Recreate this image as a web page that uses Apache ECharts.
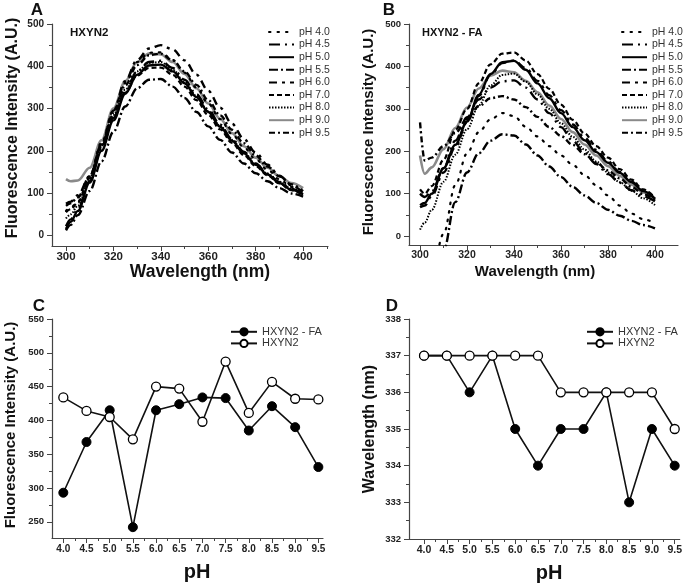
<!DOCTYPE html>
<html>
<head>
<meta charset="utf-8">
<script src="https://cdn.jsdelivr.net/npm/echarts@6/dist/echarts.min.js"></script>
<style>
  html, body { margin: 0; padding: 0; background: #fff; }
  #main { width: 685px; height: 586px; }
</style>
</head>
<body>
<div id="main"></div>
<script>
// emission wavelengths (nm) shared by panels A and B
const wavelengths = [300, 302, 305, 310, 315, 320, 325, 330, 335, 340, 345, 350, 355, 360, 365, 370, 375, 380, 385, 390, 395, 400];
const phNames = ['pH 4.0', 'pH 4.5', 'pH 5.0', 'pH 5.5', 'pH 6.0', 'pH 7.0', 'pH 8.0', 'pH 9.0', 'pH 9.5'];

// panel A - HXYN2 spectra
const a40 = [58, 66, 80, 140, 220, 295, 360, 410, 432, 433, 415, 385, 350, 312, 275, 240, 208, 180, 155, 133, 115, 101];
const a45 = [22, 38, 62, 128, 205, 278, 340, 388, 410, 413, 396, 368, 334, 298, 262, 228, 198, 170, 146, 126, 110, 98];
const a50 = [15, 32, 58, 125, 200, 272, 335, 380, 402, 404, 388, 360, 327, 292, 257, 224, 194, 167, 144, 124, 108, 97];
const a55 = [12, 25, 48, 105, 175, 245, 305, 348, 368, 370, 352, 325, 292, 258, 226, 196, 170, 147, 128, 112, 99, 92];
const a60 = [75, 80, 95, 140, 215, 295, 365, 415, 442, 450, 440, 414, 380, 342, 302, 264, 228, 196, 167, 141, 119, 100];
const a70 = [55, 62, 78, 135, 210, 280, 338, 378, 396, 397, 380, 352, 320, 285, 251, 219, 190, 164, 142, 123, 107, 96];
const a80 = [40, 50, 70, 135, 212, 285, 345, 388, 408, 410, 392, 363, 330, 294, 259, 226, 196, 169, 146, 127, 111, 100];
const a90 = [133, 128, 130, 160, 225, 300, 365, 410, 430, 428, 410, 382, 348, 312, 276, 242, 211, 184, 160, 140, 124, 112];
const a95 = [70, 76, 90, 140, 215, 290, 355, 403, 426, 430, 414, 388, 356, 320, 284, 250, 218, 189, 163, 140, 121, 105];

// panel B - HXYN2 - FA spectra
const b40 = [-150, -125, -85, 5, 120, 195, 245, 275, 290, 283, 258, 235, 212, 190, 168, 144, 120, 96, 72, 53, 40, 30];
const b45 = [100, 92, 105, 160, 225, 280, 322, 350, 365, 367, 350, 322, 290, 257, 225, 196, 170, 146, 126, 108, 94, 82];
const b50 = [73, 78, 100, 160, 215, 270, 333, 382, 410, 413, 392, 360, 325, 290, 257, 226, 198, 173, 149, 127, 106, 88];
const b55 = [-200, -170, -120, -35, 80, 150, 195, 225, 240, 237, 216, 190, 164, 139, 116, 96, 78, 62, 48, 36, 26, 18];
const b60 = [68, 72, 95, 150, 210, 268, 330, 380, 408, 414, 396, 366, 332, 297, 263, 232, 203, 176, 151, 128, 107, 88];
const b70 = [110, 100, 118, 180, 250, 300, 360, 405, 430, 433, 414, 382, 347, 310, 274, 242, 212, 185, 158, 133, 110, 90];
const b80 = [15, 32, 62, 128, 192, 252, 308, 355, 380, 383, 364, 334, 300, 266, 234, 204, 176, 150, 127, 107, 89, 73];
const b90 = [190, 147, 162, 205, 255, 303, 348, 378, 390, 386, 366, 339, 308, 276, 245, 216, 190, 165, 142, 121, 103, 86];
const b95 = [268, 178, 185, 212, 243, 276, 306, 325, 330, 322, 304, 281, 257, 236, 215, 193, 173, 155, 136, 116, 99, 85];

// panels C and D
const phValues = [4.0, 4.5, 5.0, 5.5, 6.0, 6.5, 7.0, 7.5, 8.0, 8.5, 9.0, 9.5];
const faIntensity = [293, 368, 415, 242, 415, 424, 434, 433, 385, 421, 390, 331];
const hxIntensity = [434, 414, 405, 372, 450, 447, 398, 487, 411, 457, 432, 431];
const faPeak = [337, 337, 336, 337, 335, 334, 335, 335, 336, 333, 335, 334];
const hxPeak = [337, 337, 337, 337, 337, 337, 336, 336, 336, 336, 336, 335];

const specA = [a40, a45, a50, a55, a60, a70, a80, a90, a95];
const specB = [b40, b45, b50, b55, b60, b70, b80, b90, b95];

const FONT = '"Liberation Sans", Arial, sans-serif';
const AXIS_COLOR = '#444';

// line look for every pH curve
const curveStyles = [
  { color: '#000', width: 2.2, type: [1.5, 7], cap: 'round' },
  { color: '#000', width: 2.4, type: [11, 5, 2, 5] },
  { color: '#000', width: 2.4, type: 'solid' },
  { color: '#000', width: 2.4, type: [9, 3, 2, 3] },
  { color: '#000', width: 2.4, type: [8, 5, 3, 5] },
  { color: '#000', width: 2.2, type: [5, 3] },
  { color: '#000', width: 2, type: [1.5, 1.5] },
  { color: '#8a8a8a', width: 2.6, type: 'solid' },
  { color: '#000', width: 2.4, type: [6, 3, 2, 3] }
];

const pairs = (xs, ys) => xs.map((x, i) => [x, ys[i]]);
const range = (from, to, step) => {
  const out = [];
  for (let v = from; v <= to + 1e-9; v += step) out.push(Math.round(v * 100) / 100);
  return out;
};

// main axis with labels and major ticks
function mainAxis (grid, pos, min, max, majors, fontSize, margin, fmt) {
  return {
    type: 'value', gridIndex: grid, position: pos, min: min, max: max,
    splitLine: { show: false },
    axisLine: { show: true, onZero: false, lineStyle: { color: AXIS_COLOR, width: 1.2 } },
    axisTick: { show: true, customValues: majors, length: 5, lineStyle: { color: AXIS_COLOR } },
    axisLabel: {
      customValues: majors, fontSize: fontSize, fontWeight: 'bold', color: '#222',
      fontFamily: FONT, margin: margin, formatter: fmt
    }
  };
}
// second axis on the same side of the grid, carrying only the minor ticks
function minorAxis (grid, pos, min, max, minors) {
  return {
    type: 'value', gridIndex: grid, position: pos, offset: 0, min: min, max: max,
    splitLine: { show: false },
    axisLine: { show: false, onZero: false },
    axisTick: { show: true, customValues: minors, length: 3, lineStyle: { color: AXIS_COLOR } },
    axisLabel: { show: false }
  };
}

const fmt1 = v => v.toFixed(1);

const xAxes = [
  mainAxis(0, 'bottom', 294.1, 410.5, range(300, 400, 20), 11.5, 5),
  mainAxis(1, 'bottom', 295.3, 409.8, range(300, 400, 20), 10.5, 5),
  mainAxis(2, 'bottom', 3.756, 9.6, range(4, 9.5, 0.5), 10, 6, fmt1),
  mainAxis(3, 'bottom', 3.67, 9.61, range(4, 9.5, 0.5), 10.5, 6, fmt1),
  minorAxis(0, 'bottom', 294.1, 410.5, range(310, 410, 20)),
  minorAxis(1, 'bottom', 295.3, 409.8, range(310, 390, 20)),
  minorAxis(2, 'bottom', 3.756, 9.6, range(4.25, 9.25, 0.5)),
  minorAxis(3, 'bottom', 3.67, 9.61, range(4.25, 9.25, 0.5))
];
const yAxes = [
  mainAxis(0, 'left', -25, 500, range(0, 500, 100), 10, 8),
  mainAxis(1, 'left', -21, 500, range(0, 500, 100), 9.5, 8),
  mainAxis(2, 'left', 226, 550, range(250, 550, 50), 9.5, 8),
  mainAxis(3, 'left', 332, 338, range(332, 338, 1), 9.5, 8),
  minorAxis(0, 'left', -25, 500, range(50, 450, 100)),
  minorAxis(1, 'left', -21, 500, range(50, 450, 100)),
  minorAxis(2, 'left', 226, 550, range(275, 525, 50)),
  minorAxis(3, 'left', 332, 338, range(332.5, 337.5, 1))
];

const series = [];
[specA, specB].forEach((spec, g) => {
  spec.forEach((vals, i) => {
    series.push({
      type: 'line', name: phNames[i], xAxisIndex: g, yAxisIndex: g,
      data: pairs(wavelengths, vals), smooth: 0.35, smoothMonotone: 'x',
      symbol: 'none', clip: true, silent: true,
      itemStyle: { color: curveStyles[i].color },
      lineStyle: curveStyles[i], z: i === 7 ? 1 : 2
    });
  });
});
[[faIntensity, hxIntensity], [faPeak, hxPeak]].forEach((pair, k) => {
  const g = k + 2;
  series.push({
    type: 'line', name: 'HXYN2 - FA', xAxisIndex: g, yAxisIndex: g,
    data: pairs(phValues, pair[0]), symbol: 'circle', symbolSize: 9,
    lineStyle: { color: '#111', width: 1.6 },
    itemStyle: { color: '#000', borderColor: '#000', borderWidth: 1 }, z: 3
  });
  series.push({
    type: 'line', name: 'HXYN2', xAxisIndex: g, yAxisIndex: g,
    data: pairs(phValues, pair[1]), symbol: 'circle', symbolSize: 9,
    lineStyle: { color: '#111', width: 1.6 },
    itemStyle: { color: '#fff', borderColor: '#000', borderWidth: 1.3 }, z: 4
  });
});

function phLegend (left) {
  return {
    data: phNames, orient: 'vertical', left: left, top: 26, padding: 0,
    itemWidth: 25, itemHeight: 8, itemGap: 0.6, selectedMode: false,
    itemStyle: { opacity: 0 },
    textStyle: { fontSize: 10.5, lineHeight: 12, color: '#333', fontFamily: FONT }
  };
}
function pairLegend (left) {
  return {
    data: ['HXYN2 - FA', 'HXYN2'], orient: 'vertical', left: left, top: 326, padding: 0,
    itemWidth: 26, itemHeight: 9, itemGap: 0, selectedMode: false,
    textStyle: { fontSize: 11, lineHeight: 11.6, color: '#333', fontFamily: FONT }
  };
}

function text (x, y, str, size, rot, align) {
  return {
    type: 'text', x: x, y: y, rotation: rot ? Math.PI / 2 : 0, silent: true,
    style: {
      text: str, fill: '#111', fontSize: size, fontWeight: 'bold', fontFamily: FONT,
      align: align || 'center', verticalAlign: 'middle'
    }
  };
}

const chart = echarts.init(document.getElementById('main'), null, { renderer: 'canvas' });
chart.setOption({
  animation: false,
  backgroundColor: '#fff',
  grid: [
    { left: 52, top: 24, width: 276, height: 222 },
    { left: 409, top: 24, width: 269, height: 221 },
    { left: 52, top: 319, width: 271, height: 219 },
    { left: 409, top: 319, width: 273, height: 220 }
  ],
  xAxis: xAxes,
  yAxis: yAxes,
  legend: [phLegend(268), phLegend(621), pairLegend(230), pairLegend(586)],
  series: series,
  graphic: [
    text(37, 10, 'A', 17), text(389, 10, 'B', 17),
    text(39, 306, 'C', 17), text(392, 306, 'D', 17),
    text(70, 33, 'HXYN2', 11.5, false, 'left'),
    text(422, 33, 'HXYN2 - FA', 11, false, 'left'),
    text(13, 128, 'Fluorescence Intensity (A.U.)', 16, true),
    text(200, 272, 'Wavelength (nm)', 17.5),
    text(369, 132, 'Fluorescence Intensity (A.U.)', 15, true),
    text(535, 272, 'Wavelength (nm)', 15),
    text(11, 425, 'Fluorescence Intensity (A.U.)', 15, true),
    text(197, 572, 'pH', 20),
    text(370, 429, 'Wavelength (nm)', 16, true),
    text(549, 573, 'pH', 20)
  ]
});
</script>
</body>
</html>
